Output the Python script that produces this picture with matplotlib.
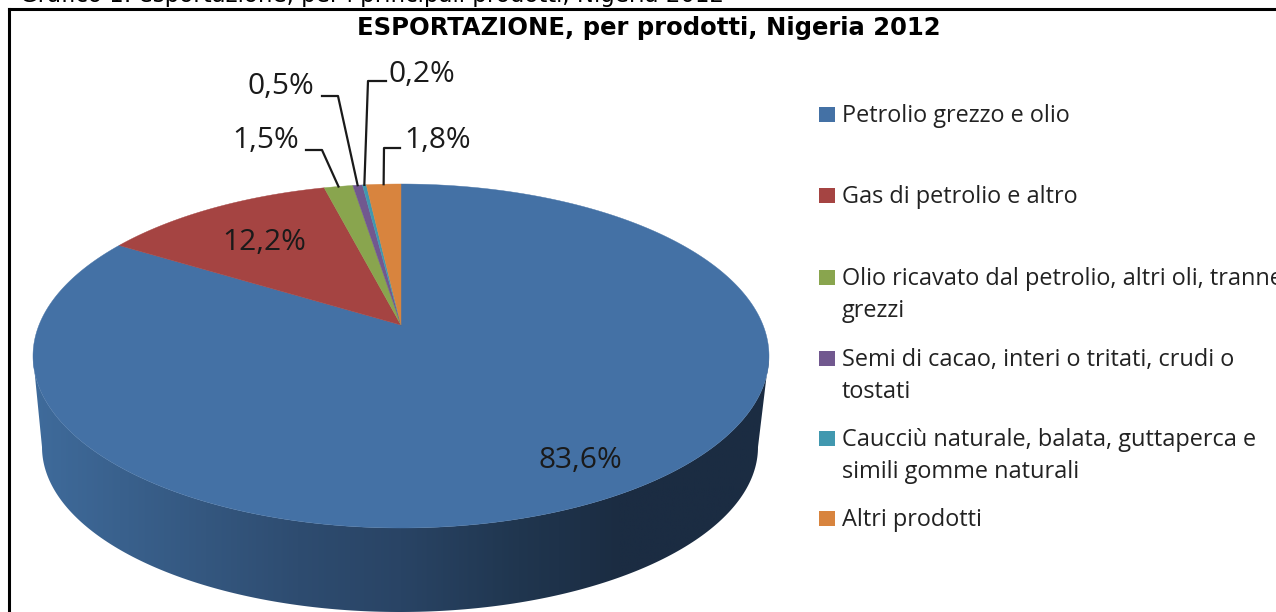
import numpy as np
import matplotlib
matplotlib.use("Agg")
import matplotlib.pyplot as plt
from matplotlib.colors import LinearSegmentedColormap
from matplotlib.patches import Polygon

title = "ESPORTAZIONE, per prodotti, Nigeria 2012"
cut_line = "Grafico 1: esportazione, per i principali prodotti, Nigeria 2012"

# quote in percent, clockwise from 12 o'clock
labels = ["Petrolio grezzo e olio", "Gas di petrolio e altro",
          "Olio ricavato dal petrolio, altri oli, tranne\ngrezzi",
          "Semi di cacao, interi o tritati, crudi o\ntostati",
          "Caucciù naturale, balata, guttaperca e\nsimili gomme naturali",
          "Altri prodotti"]
values = [83.6, 12.2, 1.5, 0.5, 0.2, 1.8]
value_labels = ["83,6%", "12,2%", "1,5%", "0,5%", "0,2%", "1,8%"]
colors = ["#4471A5", "#A54442", "#89A54E", "#71588F", "#4198AF", "#D8843E"]

W, H = 1276, 612
cx, cy, rx, ry = 401, 356, 368, 172
bx, by, brx, bry = 400, 447, 358, 165
k = 0.18  # perspective shift of the pie centre

def project(theta):
    # circle angle (clockwise from top, degrees) -> pixel, apex ends up above the ellipse centre
    t = np.radians(theta)
    X, Y = np.sin(t), np.cos(t)
    d = 1 + k * Y
    return cx + rx * X * np.sqrt(1 - k * k) / d, cy - ry * (Y + k) / d

fig = plt.figure(figsize=(W / 100, H / 100), dpi=100)
ax = fig.add_axes([0, 0, 1, 1])

# side of the pie: horizontal gradient clipped to the outline
side = LinearSegmentedColormap.from_list("side", [(0, "#3F6B9B"), (0.36, "#2E4C70"), (0.5, "#294465"),
                                                 (0.66, "#20364F"), (0.8, "#1B2C42"), (1, "#1B2C42")])
grad = np.linspace(0, 1, 400).reshape(1, -1)
im = ax.imshow(grad, cmap=side, extent=(cx - rx, cx + rx, H + 10, cy), aspect="auto", zorder=1)
t = np.linspace(0, np.pi, 200)
upper = np.c_[cx + rx * np.cos(t), cy + ry * np.sin(t)]
lower = np.c_[bx - brx * np.cos(t), by + bry * np.sin(t)]
outline = Polygon(np.r_[upper, lower], closed=True, transform=ax.transData, fc="none", ec="none")
ax.add_patch(outline)
im.set_clip_path(outline)

ax.set_xlim(0, W)
ax.set_ylim(H, 0)
ax.axis("off")

# frame
ax.plot([9, 9], [H, 9], color="black", lw=2.2, solid_capstyle="projecting")
ax.plot([9, W], [9, 9], color="black", lw=2.2, solid_capstyle="projecting")

# top of the pie, the quotes do not add up to exactly 100
ends = np.cumsum(values) / np.sum(values) * 360
starts = np.r_[0, ends[:-1]]
apex_y = cy - ry * k
for a, b, c in zip(starts, ends, colors):
    th = np.linspace(a, b, max(int(b - a) * 2, 4))
    px, py = project(th)
    ax.fill(np.r_[cx, px], np.r_[apex_y, py], fc=c, ec=c, lw=0.3, zorder=2)

lab_font = dict(family="Open Sans", fontsize=21.5, color="#1a1a1a", va="center", ha="center", zorder=4)
ax.text(580, 460, value_labels[0], **lab_font)
ax.text(264, 242, value_labels[1], **lab_font)

# small slices have a leader line: text centre, elbow start, elbow end
leaders = [(2, (266, 141), (306, 150), (322, 150)),
           (3, (281, 86), (322, 96), (338, 96)),
           (4, (422, 74), (386, 81), (368, 81)),
           (5, (438, 141), (400, 148), (384, 148))]
for i, pos, p0, p1 in leaders:
    ax.text(pos[0], pos[1], value_labels[i], **lab_font)
    mid = (ends[i] + starts[i]) / 2
    ex, ey = project(np.array([mid]))
    ax.plot([p0[0], p1[0], ex[0]], [p0[1], p1[1], ey[0]], color="#1a1a1a", lw=1.6, zorder=3)

# legend by hand, the spacing in the original is not regular
legend_y = [115, 196, 278, 359, 439, 519]
for y, lab, c in zip(legend_y, labels, colors):
    ax.fill_between([819, 835], y - 8, y + 7, color=c, lw=0)
    ax.text(842, y - 11, lab, family="Open Sans", fontsize=16.9, color="#222222",
            va="top", ha="left", linespacing=1.44, clip_on=True)

ax.text(649, 28, title, family="DejaVu Sans", fontweight="bold", fontsize=17.5,
        color="black", ha="center", va="center")
ax.text(20, 2, cut_line, family="DejaVu Sans", fontsize=16.5, color="black", ha="left",
        va="baseline", clip_on=True)

fig.savefig("out.png", dpi=100)
